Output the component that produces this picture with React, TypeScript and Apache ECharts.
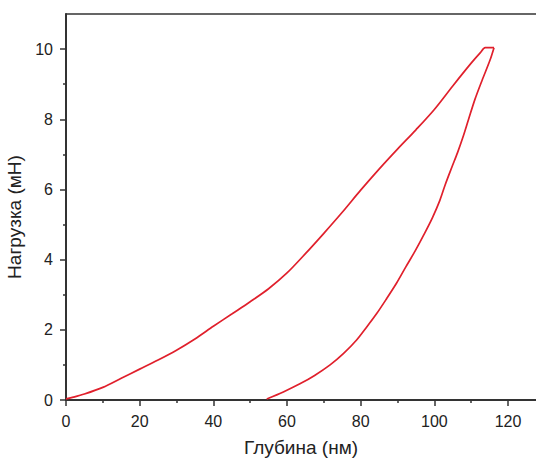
import React, { useEffect, useRef } from "react";
import * as echarts from "echarts";

// Loading branch: depth (nm), load (mN)
const loadingDepth = [0, 2, 5, 10, 15, 20, 25, 30, 35, 40, 45, 50, 55, 60, 65, 70, 75, 80, 85, 90, 95, 100, 105, 110, 112.5, 113.8, 116.2];
const loadingLoad = [0.03, 0.08, 0.17, 0.36, 0.62, 0.88, 1.14, 1.42, 1.74, 2.1, 2.45, 2.8, 3.17, 3.62, 4.17, 4.75, 5.35, 5.98, 6.58, 7.15, 7.7, 8.28, 8.95, 9.6, 9.9, 10.04, 10.04];

// Unloading branch
const unloadingDepth = [116.2, 115.1, 113, 111, 109.3, 107.8, 106.3, 104.7, 103, 101.5, 99.5, 97.2, 94.8, 92.3, 89.8, 87, 84.4, 81.5, 78.9, 75.3, 71.7, 67.5, 63.5, 59, 54.5];
const unloadingLoad = [10.04, 9.68, 9.12, 8.56, 8.0, 7.5, 7.05, 6.62, 6.15, 5.69, 5.2, 4.72, 4.25, 3.8, 3.34, 2.88, 2.47, 2.06, 1.71, 1.32, 1.0, 0.7, 0.46, 0.23, 0.03];

const xMajorTicks = [0, 20, 40, 60, 80, 100, 120];
const xMinorTicks = [10, 30, 50, 70, 90, 110];
const yMajorTicks = [0, 2, 4, 6, 8, 10];
const yMinorTicks = [1, 3, 5, 7, 9];

const xTitle = "Глубина (нм)";
const yTitle = "Нагрузка (мН)";

const X_MAX = 127.6;
const Y_MAX = 11;

export default function App() {
  const ref = useRef<HTMLDivElement>(null);
  useEffect(() => {
    if (!ref.current) return;
    const chart = echarts.init(ref.current, undefined, { renderer: "svg" });
    const font = "'Liberation Sans', Arial, sans-serif";
    const axisColor = "#333";
    const loading = loadingDepth.map((d, i) => [d, loadingLoad[i]]);
    const unloading = unloadingDepth.map((d, i) => [d, unloadingLoad[i]]);
    const xBase = { type: "value", min: 0, max: X_MAX, splitLine: { show: false } };
    const yBase = { type: "value", min: 0, max: Y_MAX, interval: 1, splitLine: { show: false } };
    const lineStyle = { color: "#e0202c", width: 1.7 };
    chart.setOption({
      animation: false,
      backgroundColor: "#fff",
      grid: {
        left: 66,
        top: 14,
        bottom: 59,
        right: 0,
        outerBoundsMode: "none",
        containLabel: false,
      },
      xAxis: [
        {
          ...xBase,
          position: "bottom",
          name: xTitle,
          nameLocation: "middle",
          nameGap: 38,
          nameTextStyle: { fontFamily: font, fontSize: 19, color: "#222" },
          axisLine: { show: true, lineStyle: { color: axisColor, width: 2 } },
          axisTick: { show: true, length: 6, customValues: xMajorTicks, lineStyle: { color: axisColor, width: 1.5 } },
          axisLabel: { customValues: xMajorTicks, margin: 13, fontFamily: font, fontSize: 16, color: "#222" },
        },
        {
          ...xBase,
          position: "bottom",
          offset: 0,
          axisLine: { show: false },
          axisTick: { show: true, length: 3, customValues: xMinorTicks, lineStyle: { color: axisColor, width: 1.5 } },
          axisLabel: { show: false },
        },
        {
          ...xBase,
          position: "top",
          offset: 0,
          axisLine: { show: true, lineStyle: { color: axisColor, width: 1.5 } },
          axisTick: { show: false },
          axisLabel: { show: false },
        },
      ],
      yAxis: [
        {
          ...yBase,
          position: "left",
          name: yTitle,
          nameLocation: "middle",
          nameGap: 33,
          nameTextStyle: { fontFamily: font, fontSize: 19, color: "#222", padding: [0, 20, 0, 0] },
          axisLine: { show: true, lineStyle: { color: axisColor, width: 2 } },
          axisTick: { show: true, length: 6, customValues: yMajorTicks, lineStyle: { color: axisColor, width: 1.5 } },
          axisLabel: { customValues: yMajorTicks, margin: 13, fontFamily: font, fontSize: 16, color: "#222" },
        },
        {
          ...yBase,
          position: "left",
          offset: 0,
          axisLine: { show: false },
          axisTick: { show: true, length: 3, customValues: yMinorTicks, lineStyle: { color: axisColor, width: 1.5 } },
          axisLabel: { show: false },
        },
      ],
      series: [
        {
          type: "line",
          xAxisIndex: 0,
          yAxisIndex: 0,
          data: loading,
          showSymbol: false,
          symbol: "none",
          smooth: 0.3,
          lineStyle,
        },
        {
          type: "line",
          xAxisIndex: 0,
          yAxisIndex: 0,
          data: unloading,
          showSymbol: false,
          symbol: "none",
          smooth: 0.3,
          lineStyle,
        },
      ],
    });
    return () => chart.dispose();
  }, []);
  return <div ref={ref} style={{ width: 536, height: 459, position: "absolute", left: 0, top: 0 }} />;
}
